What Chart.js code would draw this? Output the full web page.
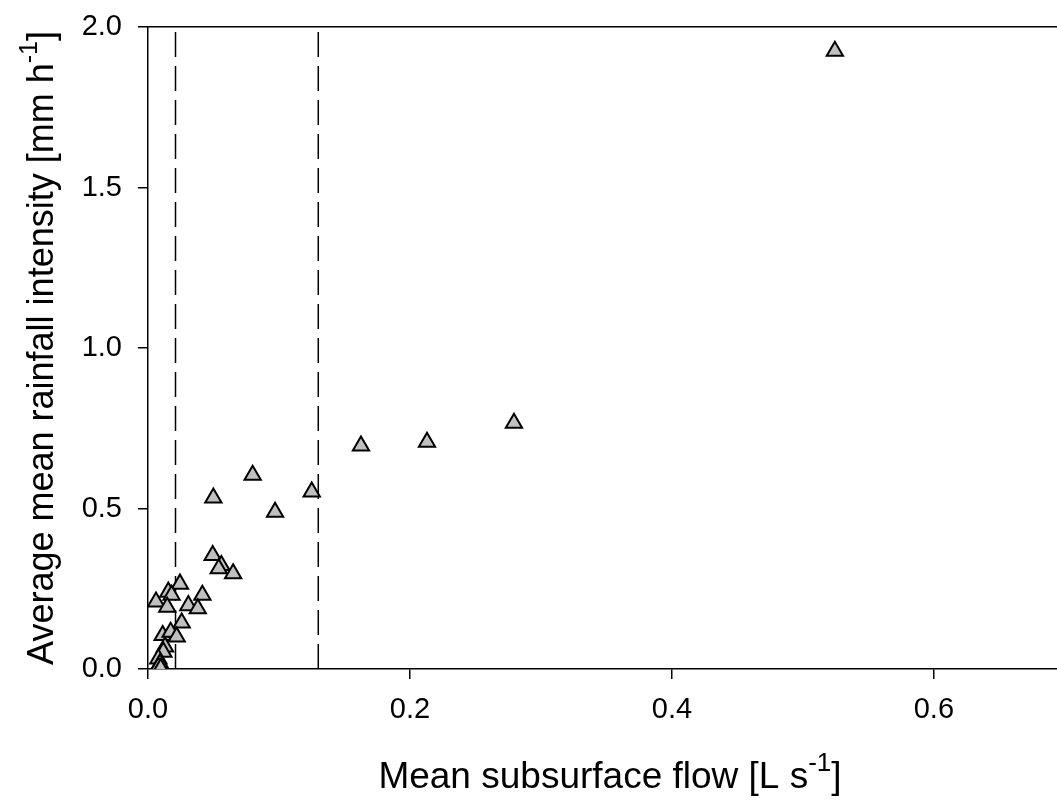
<!DOCTYPE html>
<html><head><meta charset="utf-8">
<script src="https://cdn.jsdelivr.net/npm/chart.js@4/dist/chart.umd.min.js"></script>
<style>html,body{margin:0;padding:0;background:#fff}canvas{display:block}</style>
</head><body>
<canvas id="c" width="1057" height="806"></canvas>
<script>
// Mean subsurface flow [L s-1]
const flowValues = [0.5244, 0.2794, 0.213, 0.1626, 0.0799, 0.125, 0.0499, 0.097,
  0.0494, 0.056, 0.054, 0.065, 0.0244, 0.0155, 0.018, 0.0061, 0.0147, 0.0415,
  0.0308, 0.038, 0.0257, 0.0112, 0.0173, 0.0219, 0.013, 0.0117, 0.0079, 0.0092,
  0.0079, 0.0097];
// Average mean rainfall intensity [mm h-1]
const rainValues = [1.925, 0.766, 0.707, 0.695, 0.604, 0.552, 0.533, 0.489,
  0.354, 0.323, 0.313, 0.297, 0.265, 0.240, 0.230, 0.209, 0.193, 0.230,
  0.198, 0.188, 0.144, 0.105, 0.115, 0.100, 0.069, 0.053, 0.032, 0.017,
  0.006, 0.002];
const thresholdFlows = [0.021, 0.13];
const xTickValues = [0, 0.2, 0.4, 0.6];
const yTickValues = [0, 0.5, 1.0, 1.5, 2.0];
const xTitleParts = ['Mean subsurface flow [L s', '-1', ']'];
const yTitleParts = ['Average mean rainfall intensity [mm h', '-1', ']'];

const FONT = '"Liberation Sans", Arial, sans-serif';
const X_MIN = 0, X_MAX = 0.694, Y_MIN = 0, Y_MAX = 2.0;

const pointData = flowValues.map((x, i) => ({x: x, y: rainValues[i]}));

const datasets = [{
  label: 'events',
  data: pointData,
  pointStyle: 'triangle',
  pointRadius: 9.4,
  pointHoverRadius: 9.4,
  backgroundColor: '#c0c0c0',
  borderColor: '#000',
  pointBorderWidth: 2,
  showLine: false
}];
thresholdFlows.forEach(t => {
  datasets.push({
    label: 'threshold ' + t,
    data: [{x: t, y: Y_MIN}, {x: t, y: Y_MAX}],
    showLine: true,
    pointRadius: 0,
    borderColor: '#000',
    borderWidth: 1.5,
    borderDash: [25, 9],
    fill: false
  });
});

function drawSuperText(ctx, parts, cx, baseline, size) {
  const big = size + 'px ' + FONT, small = Math.round(size * 0.7) + 'px ' + FONT;
  ctx.font = big; const w0 = ctx.measureText(parts[0]).width;
  const w2 = ctx.measureText(parts[2]).width;
  ctx.font = small; const w1 = ctx.measureText(parts[1]).width;
  let x = cx - (w0 + w1 + w2) / 2;
  ctx.textAlign = 'left'; ctx.textBaseline = 'alphabetic'; ctx.fillStyle = '#000';
  ctx.font = big; ctx.fillText(parts[0], x, baseline); x += w0;
  ctx.font = small; ctx.fillText(parts[1], x, baseline - Math.round(size * 0.45)); x += w1;
  ctx.font = big; ctx.fillText(parts[2], x, baseline);
}

const titlePlugin = {
  id: 'titles',
  afterDraw(chart) {
    const ctx = chart.ctx;
    const a = chart.chartArea;
    ctx.save();
    drawSuperText(ctx, xTitleParts, 610, 788, 37);
    ctx.restore();
    ctx.save();
    ctx.translate(53, (a.top + a.bottom) / 2);
    ctx.rotate(-Math.PI / 2);
    drawSuperText(ctx, yTitleParts, 0, 0, 36);
    ctx.restore();
  }
};

function noPad(s) { s.paddingTop = 0; s.paddingBottom = 0; s.paddingLeft = 0; s.paddingRight = 0; }

new Chart(document.getElementById('c'), {
  type: 'scatter',
  data: {datasets: datasets},
  options: {
    responsive: false,
    animation: false,
    events: [],
    layout: {autoPadding: false, padding: {top: 27, right: 0, left: 0, bottom: 0}},
    plugins: {legend: {display: false}, tooltip: {enabled: false}},
    scales: {
      x: {
        type: 'linear', position: 'bottom', min: X_MIN, max: X_MAX,
        afterBuildTicks: s => { s.ticks = xTickValues.map(v => ({value: v})); },
        afterFit: s => { s.height = 806 - 669; noPad(s); },
        ticks: {color: '#000', font: {family: FONT, size: 29}, padding: 14,
          maxRotation: 0, autoSkip: false, callback: v => Number(v).toFixed(1)},
        grid: {display: true, drawOnChartArea: false, drawTicks: true, tickLength: 10,
          color: '#000', lineWidth: 1.5},
        border: {display: true, color: '#000', width: 1.5}
      },
      x2: {
        type: 'linear', position: 'top', min: X_MIN, max: X_MAX,
        ticks: {display: false}, grid: {display: false},
        border: {display: true, color: '#000', width: 1.5},
        afterFit: s => { s.height = 0; noPad(s); }
      },
      y: {
        type: 'linear', position: 'left', min: Y_MIN, max: Y_MAX,
        afterBuildTicks: s => { s.ticks = yTickValues.map(v => ({value: v})); },
        afterFit: s => { s.width = 148; noPad(s); },
        ticks: {color: '#000', font: {family: FONT, size: 29}, padding: 16,
          autoSkip: false, callback: v => Number(v).toFixed(1)},
        grid: {display: true, drawOnChartArea: false, drawTicks: true, tickLength: 10,
          color: '#000', lineWidth: 1.5},
        border: {display: true, color: '#000', width: 1.5}
      }
    }
  },
  plugins: [titlePlugin]
});
</script>
</body></html>
